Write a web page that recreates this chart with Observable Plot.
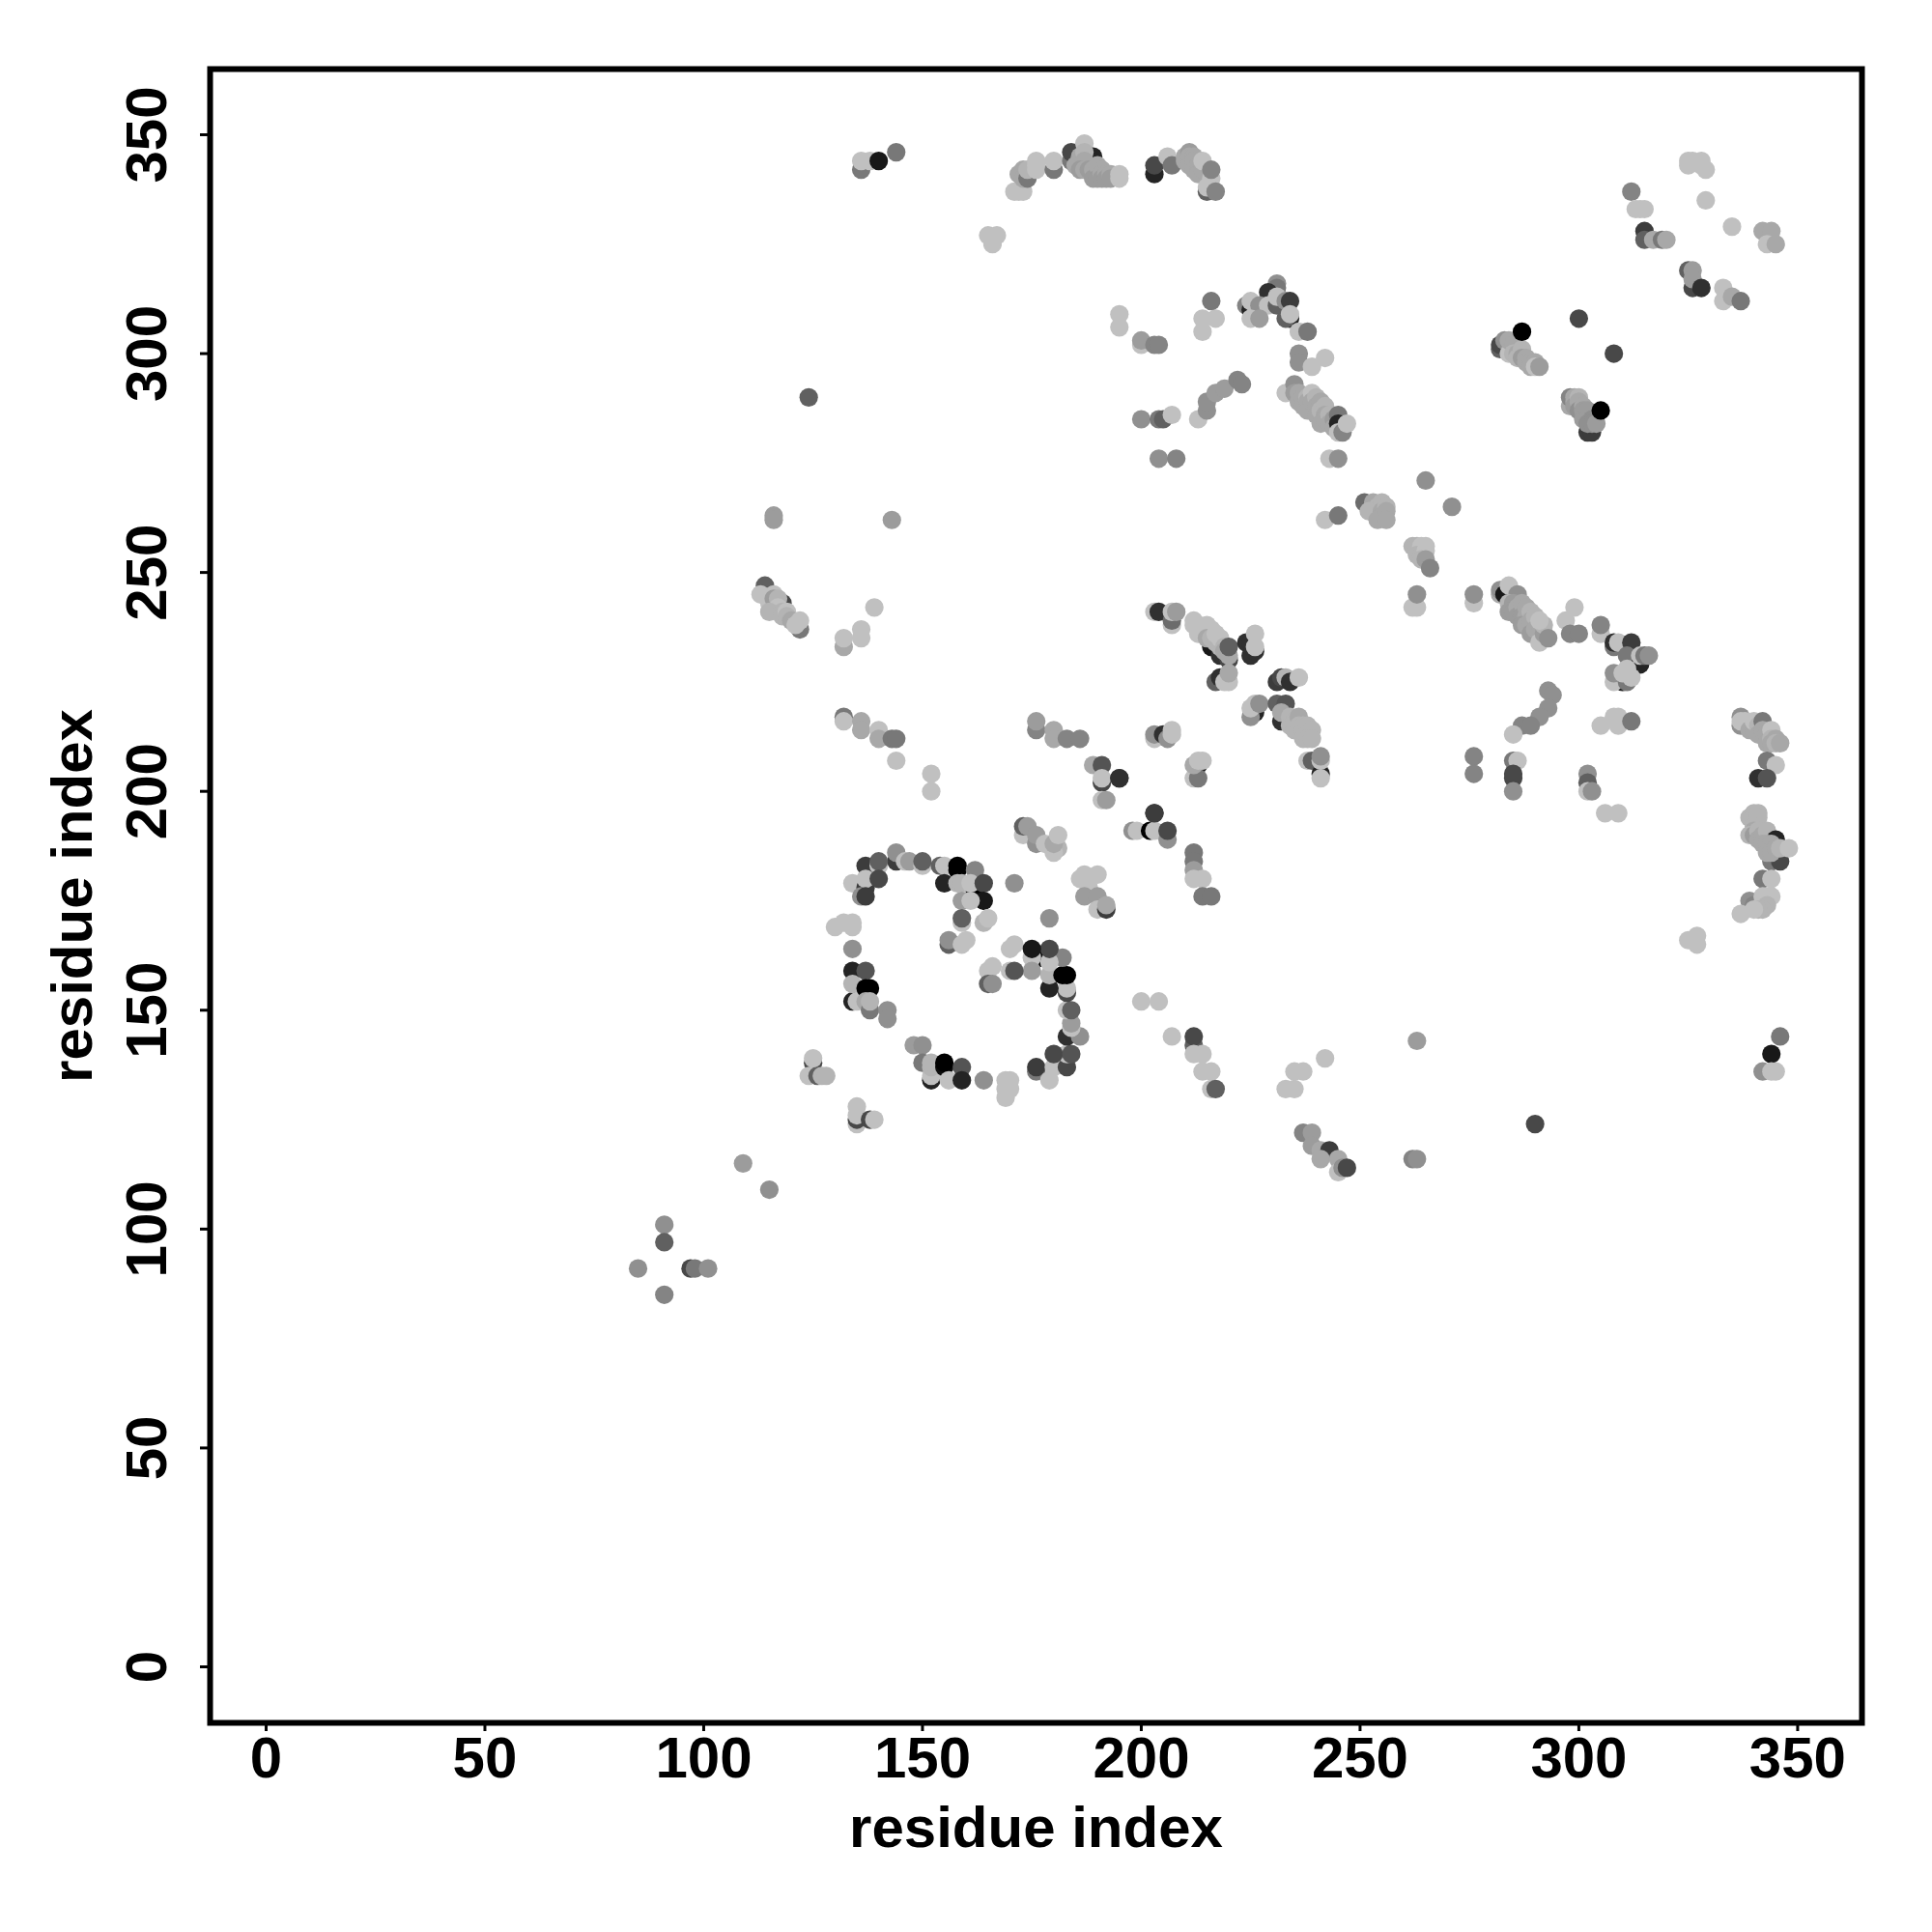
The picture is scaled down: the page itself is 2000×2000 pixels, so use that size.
<!DOCTYPE html>
<html><head><meta charset="utf-8">
<style>html,body{margin:0;padding:0;background:#fff}svg{display:block}</style>
<script src="https://cdn.jsdelivr.net/npm/d3@7"></script>
<script src="https://cdn.jsdelivr.net/npm/@observablehq/plot@0.6"></script>
</head><body><div id="chart"></div>
<script>
// [residue i, residue j, contact weight]
const spiral = [[144,184,.75],[144,186,.4],[137,183,.75],[140,183,.2],[140,184,.6],[134,179,.2],[137,178,.75],[137,180,.2],[140,180,.7],[136,176,.4],[137,176,.75],[146,184,.2],[147,184,.35],[150,183,.2],[150,184,.6],[154,183,.6],[155,183,.2],[158,182,1],[158,183,1],[162,182,.45],[155,179,.85],[158,179,.25],[159,179,.25],[162,177,1],[161,179,.2],[164,179,.7],[164,175,.9],[159,175,.35],[161,175,.2],[159,170,.2],[159,171,.6],[164,170,.25],[165,171,.2],[156,165,.6],[156,166,.4],[159,165,.2],[160,166,.2],[130,169,.2],[132,170,.2],[134,169,.2],[134,170,.2],[134,164,.4],[134,159,.85],[137,159,.65],[134,152,.85],[134,156,.25],[135,152,.2],[137,155,1],[138,155,1],[137,152,.3],[138,150,.5],[138,152,.25],[142,150,.4],[142,148,.4],[148,142,.35],[150,142,.4],[150,138,.5],[152,134,.85],[152,135,.2],[152,137,.25],[152,138,.25],[155,137,.95],[155,138,1],[159,137,.65],[156,134,.2],[159,134,.85],[164,134,.4],[169,130,.2],[169,134,.2],[170,134,.2],[169,132,.2],[170,132,.2],[176,136,.5],[176,137,.75],[179,134,.2],[180,137,.2],[183,137,.7],[183,140,.2],[180,140,.7],[184,140,.65],[183,144,.8],[186,144,.4],[184,146,.2],[184,147,.35],[183,150,.2],[184,150,.6],[183,154,.7],[183,155,.2],[179,155,.85],[179,158,.25],[182,158,1],[183,158,1],[177,162,1],[182,162,.45],[179,161,.2],[179,164,.7],[171,165,.2],[170,164,.2],[175,162,.2],[175,164,.9],[175,159,.35],[170,159,.2],[171,159,.65],[165,159,.2],[166,160,.2],[165,156,.6],[166,156,.4]];
const arcNear = [[173,190,.2],[173,192,.6],[174,192,.35],[176,188,.4],[176,190,.35],[178,188,.2],[181,187,.25],[180,186,.2],[180,188,.3],[181,190,.2],[171,179,.4],[179,171,.4],[186,180,.2],[187,181,.2],[190,181,.2],[188,178,.2],[187,176,.35],[190,176,.35],[190,173,.2],[192,173,.75],[192,174,.3],[198,191,.4],[199,191,.2],[202,191,1],[203,191,.2],[203,195,.75],[206,189,.4],[206,191,.7],[200,152,.2],[204,152,.2],[207,144,.2],[125,138,.7],[125,139,.2],[124,135,.2],[126,135,.6],[127,135,.25],[128,135,.25],[135,124,.2],[135,125,.7],[135,126,.2],[135,128,.2],[138,125,.7],[139,125,.2]];
const centre = [[203,241,.2],[204,241,.8],[207,238,.2],[207,239,.55],[207,241,.2],[208,241,.35],[216,233,.9],[218,231,.8],[220,230,.7],[212,239,.2],[212,238,.2],[213,238,.2],[214,237,.2],[213,236,.2],[215,238,.2],[215,236,.2],[216,237,.2],[215,235,.3],[216,235,.25],[217,234,.25],[217,236,.2],[218,233,.25],[218,235,.2],[219,233,.25],[219,232,.3],[220,231,.3],[220,233,.6],[217,225,.6],[218,226,.8],[219,225,.2],[220,225,.2],[220,227,.3],[224,234,.8],[225,231,.8],[225,234,.8],[226,232,.8],[226,233,.2],[226,236,.2],[231,225,.75],[232,226,.7],[233,226,.25],[234,225,.8],[236,226,.2],[226,218,.85],[225,217,.4],[225,219,.2],[226,220,.2],[227,220,.4],[232,216,.8],[231,220,.6],[233,220,.65],[232,218,.3],[234,217,.25],[234,215,.25],[235,216,.25],[235,214,.25],[236,217,.3],[236,215,.25],[236,214,.25],[237,215,.25],[237,214,.25],[238,215,.25],[238,213,.25],[239,214,.25],[237,212,.25],[238,212,.25],[239,212,.25],[238,207,.2],[239,207,.6],[241,204,.85],[241,203,.2],[241,207,.2],[241,208,.4],[203,212,.2],[203,213,.4],[205,213,.8],[206,212,.4],[207,213,.2],[207,214,.2],[213,206,.85],[212,203,.2],[213,203,.5],[212,206,.3],[213,207,.2],[214,207,.2],[195,203,.8],[203,195,.8]];
const bandRight = [[276,243,.2],[276,245,.4],[282,245,.3],[282,246,.4],[283,245,.9],[284,247,.2],[286,245,.4],[284,243,.25],[285,243,.35],[284,241,.35],[285,241,.35],[286,242,.3],[286,240,.35],[287,243,.3],[287,240,.35],[288,242,.3],[288,240,.3],[287,238,.35],[288,238,.3],[289,241,.25],[289,239,.3],[289,236,.35],[290,240,.25],[290,237,.3],[291,236,.3],[291,234,.2],[292,236,.35],[292,238,.25],[291,239,.2],[293,235,.4],[297,239,.2],[299,242,.2],[298,236,.45],[300,236,.45],[305,236,.2],[305,238,.45],[308,233,.5],[308,234,.8],[309,234,.2],[312,234,.75],[311,231,.5],[314,229,.85],[314,231,.2],[315,231,.5],[316,231,.4],[310,225,.85],[308,225,.2],[308,227,.4],[311,225,.5],[310,227,.2],[311,228,.2],[312,226,.2],[305,215,.2],[308,217,.2],[309,217,.2],[309,215,.2],[312,216,.5],[293,223,.4],[294,222,.4],[293,219,.4],[291,217,.4],[287,215,.45],[289,215,.45],[285,213,.2],[276,208,.45],[276,204,.45],[285,207,.5],[286,207,.2],[285,203,.7],[285,204,.7],[285,200,.4],[302,204,.4],[302,202,.6],[302,200,.2],[303,200,.4],[306,195,.2],[309,195,.2]];
const topArc = [[165,327,.2],[167,327,.2],[166,325,.2],[171,337,.2],[172,337,.2],[173,337,.2],[173,342,.3],[172,341,.3],[173,340,.3],[174,340,.5],[174,342,.25],[176,344,.2],[176,343,.2],[176,342,.2],[180,342,.5],[180,344,.2],[184,344,.5],[184,346,.7],[187,348,.2],[186,345,.3],[186,344,.3],[185,343,.3],[189,345,.85],[187,346,.25],[187,344,.3],[186,342,.35],[187,342,.3],[188,342,.35],[189,342,.3],[189,340,.35],[190,343,.3],[190,340,.35],[191,342,.3],[191,341,.3],[191,340,.35],[192,341,.3],[192,340,.35],[193,341,.3],[193,340,.35],[195,341,.2],[195,340,.2],[203,341,.85],[203,343,.7],[206,345,.2],[207,343,.5],[210,345,.3],[210,344,.3],[211,346,.35],[211,345,.3],[211,343,.3],[212,345,.3],[212,344,.3],[212,342,.3],[213,343,.3],[213,341,.3],[214,342,.3],[214,344,.2],[215,337,.6],[215,338,.2],[216,340,.2],[216,338,.2],[216,342,.45],[217,337,.45],[136,342,.5],[136,344,.2],[138,344,.2],[140,344,.9],[144,346,.5]];
const upperMid = [[231,316,.4],[231,315,.5],[229,314,.8],[224,311,.45],[225,310,.85],[225,312,.2],[227,311,.4],[229,311,.2],[231,311,.6],[231,313,.2],[233,312,.4],[234,312,.75],[234,308,.85],[233,308,.6],[234,309,.2],[225,308,.2],[227,308,.35],[236,305,.2],[238,305,.5],[236,300,.4],[236,298,.4],[239,297,.2],[242,299,.2],[233,291,.2],[235,293,.4],[235,291,.35],[236,291,.3],[236,289,.3],[237,290,.3],[237,288,.3],[238,290,.25],[238,289,.3],[239,291,.2],[238,287,.3],[239,289,.3],[240,290,.25],[240,288,.3],[240,286,.3],[241,289,.3],[241,287,.25],[242,288,.25],[241,284,.3],[242,286,.3],[242,285,.3],[243,286,.25],[243,284,.3],[244,285,.35],[244,283,.3],[245,286,.5],[245,284,.85],[245,282,.2],[246,282,.45],[247,284,.2],[216,312,.5],[214,308,.2],[217,308,.2],[214,305,.2],[195,309,.2],[195,306,.2],[200,302,.2],[200,303,.35],[203,302,.45],[204,302,.45],[200,285,.4],[204,285,.5],[205,285,.6],[207,286,.2],[213,285,.2],[215,287,.4],[215,289,.4],[217,291,.35],[219,292,.35],[222,294,.45],[223,293,.45],[204,276,.4],[208,276,.45],[243,276,.2],[245,276,.4]];
const middle = [[242,262,.2],[245,263,.5],[251,266,.55],[253,266,.3],[253,264,.3],[254,265,.25],[255,266,.25],[254,263,.3],[252,264,.25],[255,264,.3],[255,263,.3],[254,262,.3],[256,265,.25],[256,264,.3],[256,262,.3],[265,271,.4],[271,265,.4],[262,256,.25],[263,256,.25],[264,256,.2],[265,256,.2],[263,254,.25],[264,254,.25],[265,255,.2],[264,253,.25],[265,253,.35],[266,251,.45],[262,242,.2],[263,242,.2],[263,245,.4]];
const leftSide = [[124,290,.6],[116,263,.35],[116,262,.35],[143,262,.35],[139,242,.2],[114,247,.6],[113,245,.2],[115,243,.2],[116,245,.2],[116,244,.35],[118,243,.7],[117,244,.25],[117,242,.2],[115,241,.25],[118,241,.25],[118,240,.25],[119,241,.2],[119,240,.25],[122,237,.5],[120,239,.3],[121,238,.2],[122,239,.2],[132,233,.3],[132,235,.2],[136,235,.2],[136,237,.2],[132,217,.5],[132,216,.2],[136,216,.3],[136,214,.3],[140,214,.2],[140,212,.3],[143,212,.5],[144,212,.5],[144,207,.2],[152,204,.2],[152,200,.2],[176,214,.45],[176,216,.35],[180,214,.3],[180,212,.3],[183,212,.45],[186,212,.45],[189,206,.3],[191,206,.65],[191,202,.7],[191,203,.2],[191,198,.2],[192,198,.35],[195,203,.75],[212,186,.5],[212,184,.5],[212,182,.35],[212,180,.2],[214,180,.2],[214,176,.5],[216,176,.5]];
const rightEdge = [[337,215,.4],[337,217,.4],[337,216,.2],[338,216,.2],[339,214,.3],[340,214,.3],[340,216,.2],[341,215,.25],[342,216,.5],[341,213,.3],[342,214,.3],[343,213,.3],[344,214,.2],[343,211,.3],[344,212,.25],[344,211,.3],[345,212,.3],[345,211,.25],[346,211,.3],[343,207,.5],[345,206,.2],[341,203,.8],[343,203,.65],[339,194,.25],[340,195,.25],[340,194,.25],[341,195,.25],[341,194,.25],[340,192,.25],[340,191,.3],[339,190,.25],[340,190,.35],[341,191,.25],[341,189,.3],[342,190,.3],[343,191,.25],[345,189,.85],[344,184,.5],[346,184,.7],[342,188,.3],[343,188,.3],[344,188,.3],[343,186,.3],[344,186,.3],[345,187,.3],[346,187,.25],[348,187,.2],[342,180,.5],[344,180,.2],[339,175,.4],[340,174,.45],[342,176,.2],[343,176,.2],[344,176,.2],[343,174,.25],[342,173,.25],[341,173,.25],[340,173,.2],[337,172,.2],[325,166,.2],[327,167,.2],[327,165,.2]];
const topRight = [[312,337,.45],[313,333,.2],[314,333,.2],[315,333,.2],[315,328,.75],[315,326,.6],[317,326,.3],[319,326,.5],[320,326,.3],[325,343,.2],[325,344,.2],[326,344,.2],[328,343,.2],[328,344,.2],[329,342,.2],[329,335,.2],[335,329,.2],[342,328,.3],[344,328,.3],[343,325,.2],[345,325,.3],[325,319,.6],[326,319,.35],[326,315,.7],[326,317,.35],[328,315,.8],[333,315,.2],[333,312,.2],[335,313,.3],[337,312,.5]];
const helixPair = [[282,301,.6],[282,302,.7],[283,303,.4],[284,300,.2],[284,303,.3],[285,302,.3],[285,300,.25],[286,300,.3],[286,299,.25],[287,301,.25],[287,305,1],[287,299,.35],[288,299,.3],[288,298,.3],[289,298,.3],[289,297,.3],[290,298,.3],[290,297,.2],[291,297,.35],[300,308,.7],[308,300,.7],[302,282,.75],[303,282,.75],[298,288,.3],[298,290,.45],[299,290,.3],[299,289,.3],[299,288,.35],[300,290,.25],[300,289,.3],[300,287,.4],[301,288,.3],[301,287,.35],[301,285,.35],[302,287,.35],[302,285,.35],[303,285,.4],[302,284,.4],[303,284,.4],[304,284,.35],[305,287,1]];
const lower = [[263,143,.35],[262,116,.45],[263,116,.4],[290,124,.7],[344,140,.9],[346,144,.5],[342,136,.4],[344,136,.2],[345,136,.2],[212,142,.6],[212,144,.7],[212,140,.2],[214,140,.2],[214,136,.2],[216,136,.2],[216,132,.2],[217,132,.6],[233,132,.2],[235,132,.2],[235,136,.2],[237,136,.2],[242,139,.2],[237,122,.45],[239,122,.35],[239,119,.35],[241,118,.3],[243,118,.75],[241,116,.3],[245,116,.3],[245,113,.2],[246,114,.4],[247,114,.7],[91,101,.4],[91,97,.6],[91,85,.45],[85,91,.4],[97,91,.7],[98,91,.5],[101,91,.4],[109,115,.35],[115,109,.4]];

const xTicks = [0,50,100,150,200,250,300,350];
const yTicks = [0,50,100,150,200,250,300,350];
const axisLabel = "residue index";

const contacts = [...lower,...leftSide,...topArc,...topRight,...upperMid,...helixPair,...middle,...centre,...bandRight,...rightEdge,...arcNear,...spiral]
  .map(([i,j,w]) => ({i,j,w}));

const fontFamily = "'Liberation Sans', Arial, sans-serif";
const chart = Plot.plot({
  width: 2000, height: 2000,
  marginLeft: 217, marginRight: 73, marginTop: 71, marginBottom: 217,
  style: {fontFamily, fontWeight: "bold", background: "#fff", color: "#000"},
  x: {domain: [-12.8, 364.7]},
  y: {domain: [-12.8, 365]},
  color: {type: "linear", domain: [0, 1], range: ["#f0f0f0", "#000000"], interpolate: "rgb"},
  marks: [
    Plot.dot(contacts, {x: "i", y: "j", fill: "w", r: 9.6}),
    Plot.frame({stroke: "#000", strokeWidth: 6}),
    Plot.axisX({ticks: xTicks, tickSize: 9, tickPadding: 5, fontSize: 60, strokeWidth: 3, tickFormat: d => String(d), label: axisLabel, labelAnchor: "center", labelArrow: "none", labelOffset: 128}),
    Plot.axisY({ticks: yTicks, tickSize: 10, tickPadding: 36, tickRotate: -90, fontSize: 60, strokeWidth: 3, tickFormat: d => String(d), label: axisLabel, labelAnchor: "center", labelArrow: "none", labelOffset: 165})
  ]
});
document.getElementById("chart").append(chart);
</script></body></html>
